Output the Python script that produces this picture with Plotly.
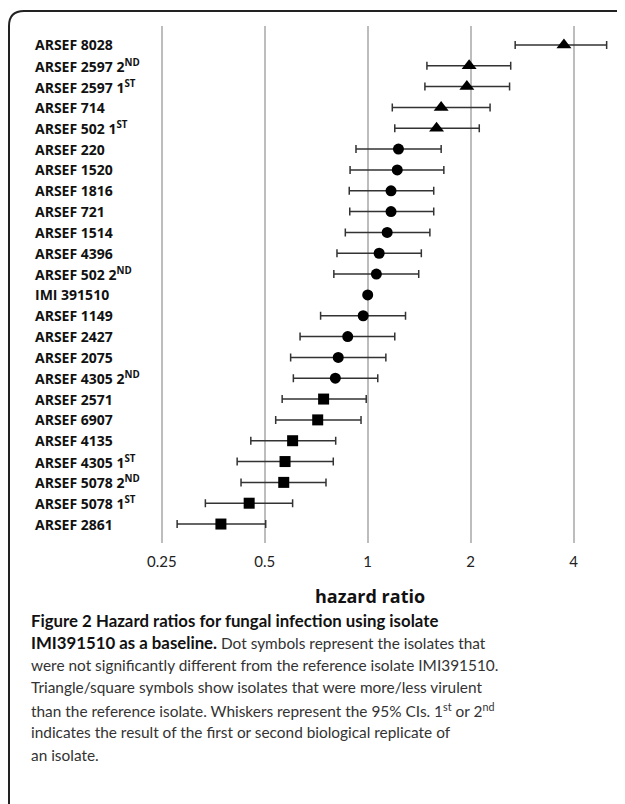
import plotly.graph_objects as go

isolates = ["ARSEF 8028", "ARSEF 2597 2<sup>ND</sup>", "ARSEF 2597 1<sup>ST</sup>", "ARSEF 714",
            "ARSEF 502 1<sup>ST</sup>", "ARSEF 220", "ARSEF 1520", "ARSEF 1816", "ARSEF 721",
            "ARSEF 1514", "ARSEF 4396", "ARSEF 502 2<sup>ND</sup>", "IMI 391510", "ARSEF 1149",
            "ARSEF 2427", "ARSEF 2075", "ARSEF 4305 2<sup>ND</sup>", "ARSEF 2571", "ARSEF 6907",
            "ARSEF 4135", "ARSEF 4305 1<sup>ST</sup>", "ARSEF 5078 2<sup>ND</sup>",
            "ARSEF 5078 1<sup>ST</sup>", "ARSEF 2861"]
hazard = [3.75, 1.98, 1.95, 1.64, 1.59, 1.23, 1.22, 1.17, 1.17, 1.14, 1.08, 1.06, 1.00, 0.97,
          0.874, 0.82, 0.804, 0.743, 0.714, 0.603, 0.573, 0.568, 0.45, 0.372]
ci_low = [2.70, 1.49, 1.47, 1.18, 1.20, 0.924, 0.888, 0.883, 0.886, 0.86, 0.813, 0.796, 1.00,
          0.728, 0.634, 0.595, 0.606, 0.562, 0.538, 0.455, 0.415, 0.426, 0.335, 0.277]
ci_high = [5.0, 2.62, 2.60, 2.28, 2.12, 1.64, 1.67, 1.56, 1.56, 1.52, 1.435, 1.41, 1.00,
           1.29, 1.20, 1.13, 1.07, 0.99, 0.956, 0.806, 0.793, 0.755, 0.603, 0.503]
group = ["more"] * 5 + ["ns"] * 12 + ["less"] * 7
tick_vals = [0.25, 0.5, 1, 2, 4]
tick_text = ["0.25", "0.5", "1", "2", "4"]

BOLD = '<span style="font-size:16.8px;color:#111"><b>{}</b></span>'
caption_lines = [
    BOLD.format("Figure 2 Hazard ratios for fungal infection using isolate"),
    BOLD.format("IMI391510 as a baseline.") + " Dot symbols represent the isolates that",
    "were not significantly different from the reference isolate IMI391510.",
    "Triangle/square symbols show isolates that were more/less virulent",
    "than the reference isolate. Whiskers represent the 95% CIs. 1<sup>st</sup> or 2<sup>nd</sup>",
    "indicates the result of the first or second biological replicate of",
    "an isolate.",
]

OFF = 8  # page body margin
W, H = 625 - OFF, 804 - OFF
L, R, T, B = 130 - OFF, 10, 26 - OFF, 261
PW, PH = W - L - R, H - T - B

def px(x):
    return (x - OFF - L) / PW

def py(y):
    return (H - B - (y - OFF)) / PH

fig = go.Figure()
symbols = {"more": "triangle-up", "ns": "circle", "less": "square"}
sizes = {"more": 13, "ns": 11, "less": 11}
for g in ["more", "ns", "less"]:
    idx = [i for i, gg in enumerate(group) if gg == g]
    fig.add_trace(go.Scatter(
        x=[hazard[i] for i in idx],
        y=[isolates[i] for i in idx],
        mode="markers",
        marker=dict(symbol=symbols[g], size=sizes[g], color="black"),
        error_x=dict(type="data", symmetric=False,
                     array=[ci_high[i] - hazard[i] for i in idx],
                     arrayminus=[hazard[i] - ci_low[i] for i in idx],
                     color="#333", thickness=1.5, width=4),
        showlegend=False,
    ))

for name in isolates:
    fig.add_annotation(x=px(33), xref="paper", y=name, yref="y", text=f"<b>{name}</b>",
                       showarrow=False, xanchor="left", yanchor="middle",
                       font=dict(family="Open Sans", size=14, color="#111"))

fig.add_annotation(x=px(370), xref="paper", y=py(596), yref="paper", text="<b>hazard ratio</b>",
                   showarrow=False, xanchor="center", yanchor="middle",
                   font=dict(family="Open Sans", size=18, color="#111"))

line_y = [620, 643, 665, 687, 710, 732, 755]
for t, yy in zip(caption_lines, line_y):
    fig.add_annotation(x=px(29), xref="paper", y=py(yy), yref="paper", text=t,
                       showarrow=False, xanchor="left", yanchor="middle",
                       font=dict(family="Lato", size=15.4, color="#333"))

path = (f"M {px(9)},{py(820)} L {px(9)},{py(26)} Q {px(9)},{py(11)} {px(24)},{py(11)} "
        f"L {px(640)},{py(11)}")
fig.add_shape(type="path", path=path, xref="paper", yref="paper",
              line=dict(color="#222", width=2))

n = len(isolates)
fig.update_layout(
    width=W, height=H,
    margin=dict(l=L, r=R, t=T, b=B),
    plot_bgcolor="white", paper_bgcolor="white",
    xaxis=dict(type="log", range=[-0.6954, 0.7234], tickvals=tick_vals, ticktext=tick_text,
               showgrid=True, gridcolor="#bdbdbd", gridwidth=2, zeroline=False, showline=False,
               ticks="", ticklabelstandoff=8,
               tickfont=dict(family="Lato", size=15, color="#222")),
    yaxis=dict(type="category", categoryorder="array", categoryarray=isolates,
               range=[n - 1 + 0.91, -0.91], showticklabels=False, showgrid=False,
               zeroline=False, showline=False, ticks=""),
)
fig.write_html("out.html")
